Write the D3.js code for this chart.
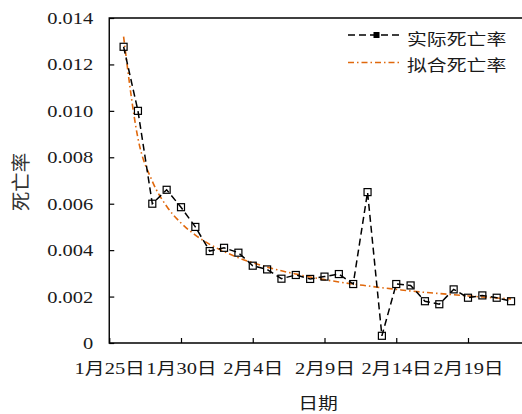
<!DOCTYPE html>
<html>
<head>
<meta charset="utf-8">
<script src="https://cdn.jsdelivr.net/npm/d3@7"></script>
<style>
  html, body { margin: 0; padding: 0; background: #fff; }
  svg { display: block; }
</style>
</head>
<body>
<svg id="chart" width="522" height="414"></svg>
<script>
// Daily dates (2020), observed and fitted death rates
const dates = [
  "2020-01-26","2020-01-27","2020-01-28","2020-01-29","2020-01-30","2020-01-31",
  "2020-02-01","2020-02-02","2020-02-03","2020-02-04","2020-02-05","2020-02-06",
  "2020-02-07","2020-02-08","2020-02-09","2020-02-10","2020-02-11","2020-02-12",
  "2020-02-13","2020-02-14","2020-02-15","2020-02-16","2020-02-17","2020-02-18",
  "2020-02-19","2020-02-20","2020-02-21","2020-02-22"
];
const actualRate = [
  0.01276, 0.0100, 0.0060, 0.0066, 0.00585, 0.0050,
  0.00396, 0.0041, 0.00389, 0.00333, 0.00317, 0.00277,
  0.00293, 0.00276, 0.00286, 0.00297, 0.00254, 0.0065,
  0.00031, 0.00254, 0.00248, 0.0018, 0.00167, 0.00231,
  0.00195, 0.00205, 0.00195, 0.0018
];
const fittedRate = [
  0.01320, 0.00882, 0.00697, 0.00589, 0.00517, 0.00465,
  0.00425, 0.00394, 0.00367, 0.00346, 0.00327, 0.00311,
  0.00297, 0.00284, 0.00273, 0.00263, 0.00254, 0.00246,
  0.00238, 0.00231, 0.00224, 0.00218, 0.00213, 0.00208,
  0.00203, 0.00198, 0.00194, 0.00190
];
const xTickDates = ["2020-01-25","2020-01-30","2020-02-04","2020-02-09","2020-02-14","2020-02-19"];
const yTickValues = [0, 0.002, 0.004, 0.006, 0.008, 0.010, 0.012, 0.014];
const seriesNames = ["实际死亡率", "拟合死亡率"];
const xTitle = "日期";
const yTitle = "死亡率";

const parse = d3.timeParse("%Y-%m-%d");
const svg = d3.select("#chart");
const W = 522, H = 414;
const plotLeft = 109.25, plotTop = 18, plotBottom = 343;
const orange = "#E0680C";
const LATIN = '"Liberation Serif", serif';
const CJK = '"Noto Sans CJK SC", sans-serif';
const TXT = "#1a1a1a";
const SX = 1.28; // horizontal text stretch

const x = d3.scaleTime()
  .domain([parse("2020-01-25"), parse("2020-02-24")])
  .range([plotLeft, plotLeft + 30 * 14.35]);
const y = d3.scaleLinear().domain([0, 0.014]).range([plotBottom, plotTop]);

// write a label as separate runs so digits keep the serif face next to CJK glyphs
function setRuns(sel, size, color) {
  sel.each(function (d) {
    const t = d3.select(this);
    const str = t.text();
    t.text(null)
      .style("font-size", size + "px")
      .attr("fill", color || TXT).style("fill", color || TXT);
    const runs = str.match(/[\u3000-\u9fff]+|[^\u3000-\u9fff]+/g) || [];
    runs.forEach(r => {
      const cjk = /[\u3000-\u9fff]/.test(r);
      t.append("tspan")
        .style("font-family", cjk ? CJK : LATIN)
        .style("font-size", (cjk ? size * 0.97 : size) + "px")
        .text(r);
    });
  });
}

// axes with inward ticks
const yAxis = svg.append("g")
  .attr("transform", `translate(${plotLeft},0)`)
  .call(d3.axisLeft(y).tickValues(yTickValues).tickSize(-5)
    .tickFormat(d => d === 0 ? "0" : d3.format(".3f")(d)));
yAxis.select(".domain").remove();
yAxis.selectAll(".tick line").attr("stroke", "#000").attr("stroke-width", 1.2);
yAxis.selectAll(".tick text")
  .attr("x", null).attr("dy", null)
  .attr("transform", `translate(-16,5.5) scale(${SX},1)`)
  .attr("text-anchor", "end")
  .call(setRuns, 16);

const xAxis = svg.append("g")
  .attr("transform", `translate(0,${plotBottom})`)
  .call(d3.axisBottom(x).tickValues(xTickDates.map(parse)).tickSize(-5)
    .tickFormat(d => `${d.getMonth() + 1}月${d.getDate()}日`));
xAxis.select(".domain").remove();
xAxis.selectAll(".tick line").attr("stroke", "#000").attr("stroke-width", 1.2);
xAxis.selectAll(".tick text")
  .attr("y", null).attr("dy", null)
  .attr("transform", `translate(0,31) scale(${SX},1)`)
  .attr("text-anchor", "middle")
  .call(setRuns, 16);

// frame: top, left and bottom lines
svg.append("path")
  .attr("d", `M${W},${plotTop}H${plotLeft}V${plotBottom}H${W}`)
  .attr("fill", "none").attr("stroke", "#000").attr("stroke-width", 1.4);

// fitted curve
const pts = dates.map(parse);
const fitLine = d3.line()
  .x((d, i) => x(pts[i])).y(d => y(d))
  .curve(d3.curveMonotoneX);
svg.append("path")
  .datum(fittedRate)
  .attr("d", fitLine)
  .attr("fill", "none").attr("stroke", orange)
  .attr("stroke-width", 1.6)
  .attr("stroke-dasharray", "6,3,1.5,3");

// observed series
const actLine = d3.line().x((d, i) => x(pts[i])).y(d => y(d));
svg.append("path")
  .datum(actualRate)
  .attr("d", actLine)
  .attr("fill", "none").attr("stroke", "#000")
  .attr("stroke-width", 1.5)
  .attr("stroke-dasharray", "7,4");
svg.append("g").selectAll("rect")
  .data(actualRate)
  .join("rect")
  .attr("x", (d, i) => x(pts[i]) - 3.5)
  .attr("y", d => y(d) - 3.5)
  .attr("width", 7).attr("height", 7)
  .attr("fill", "none").attr("stroke", "#000").attr("stroke-width", 1.2);

// legend
const lg = svg.append("g");
lg.append("line").attr("x1", 348).attr("x2", 402).attr("y1", 35).attr("y2", 35)
  .attr("stroke", "#000").attr("stroke-width", 1.5).attr("stroke-dasharray", "7,4");
lg.append("rect").attr("x", 373.5).attr("y", 32).attr("width", 6).attr("height", 6)
  .attr("fill", "#000");
lg.append("line").attr("x1", 348).attr("x2", 402).attr("y1", 62.5).attr("y2", 62.5)
  .attr("stroke", orange).attr("stroke-width", 1.6).attr("stroke-dasharray", "6,3,1.5,3");
lg.selectAll("text").data(seriesNames).join("text")
  .attr("transform", (d, i) => `translate(407,${44.5 + i * 26.5}) scale(${SX},1)`)
  .text(d => d)
  .call(setRuns, 16);

// axis titles
svg.append("text")
  .attr("transform", `translate(318,409) scale(${SX},1)`)
  .attr("text-anchor", "middle")
  .text(xTitle)
  .call(setRuns, 16);
svg.append("text")
  .attr("transform", "translate(27.5,182) rotate(-90)")
  .attr("text-anchor", "middle")
  .text(yTitle)
  .call(setRuns, 20, "#333");
</script>
</body>
</html>
